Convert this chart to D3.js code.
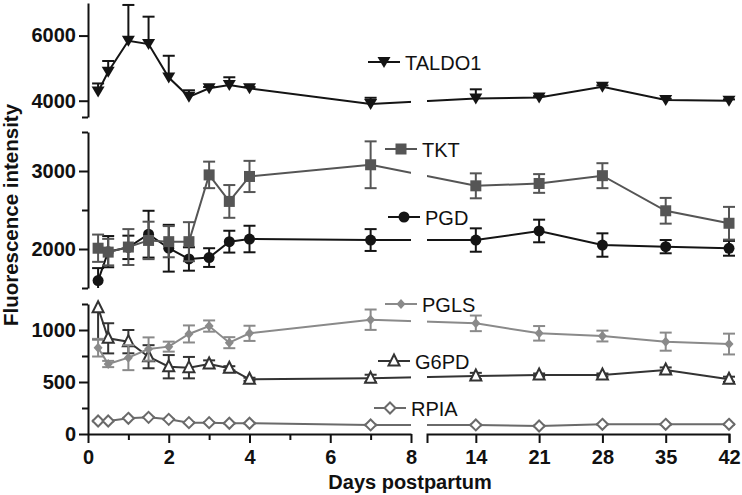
<!DOCTYPE html>
<html>
<head>
<meta charset="utf-8">
<script src="https://cdn.jsdelivr.net/npm/d3@7"></script>
<style>
  html, body { margin: 0; padding: 0; background: #fff; }
  svg { display: block; }
  .tick text { font-family: "Liberation Sans", Arial, sans-serif; font-weight: bold; font-size: 20px; fill: #111; }
</style>
</head>
<body>
<svg id="chart" width="742" height="495"></svg>
<script>
// ---------------- data ----------------
const days = [0.25, 0.5, 1, 1.5, 2, 2.5, 3, 3.5, 4, 7, 14, 21, 28, 35, 42];

const taldo1    = [4280, 4890, 5840, 5740, 4710, 4120, 4380, 4480, 4380, 3900, 4070, 4100, 4430, 4020, 4000];
const taldo1Err = [250, 330, 1100, 840, 670, 200, 40, 240, 40, 190, 280, 40, 40, 40, 40];

const tkt    = [2010, 1960, 2025, 2110, 2094, 2094, 2950, 2610, 2930, 3080, 2810, 2840, 2940, 2490, 2330];
const tktErr = [175, 170, 230, 240, 200, 250, 170, 210, 200, 300, 160, 120, 160, 165, 210];

const pgd    = [1595, 1966, 2021, 2190, 2010, 1872, 1890, 2094, 2128, 2115, 2115, 2231, 2051, 2030, 2009];
const pgdErr = [160, 200, 150, 300, 300, 150, 120, 140, 170, 140, 150, 145, 150, 85, 95];

const pgls    = [830, 673, 734, 817, 840, 962, 1038, 878, 968, 1099, 1064, 968, 942, 888, 865];
const pglsErr = [85, 30, 120, 112, 48, 82, 54, 53, 73, 98, 75, 70, 52, 87, 100];

const g6pd    = [1214, 920, 888, 743, 647, 638, 673, 632, 526, 535, 558, 567, 567, 615, 526];
const g6pdErr = [305, 145, 112, 111, 112, 103, 35, 20, 15, 35, 30, 15, 15, 25, 25];

const rpia    = [125, 125, 151, 160, 141, 109, 109, 103, 103, 87, 87, 77, 93, 93, 93];
const rpiaErr = [4, 4, 4, 4, 4, 4, 4, 4, 4, 4, 4, 4, 4, 4, 4];

const seriesNames = ["TALDO1", "TKT", "PGD", "PGLS", "G6PD", "RPIA"];

const xLeftTicks  = [0, 2, 4, 6, 8];
const xLeftMinor  = [1, 3, 5, 7];
const xRightTicks = [14, 21, 28, 35, 42];

const yTopTicks = [4000, 6000];
const yTopMinor = [3500];
const yMidTicks = [2000, 3000];
const yMidMinor = [1500, 2500, 3500];
const yBotTicks = [0, 500, 1000];
const yBotMinor = [250, 750, 1250];

// ---------------- scales ----------------
const svg = d3.select("#chart");
const FONT = '"Liberation Sans", Arial, sans-serif';

const xLeft  = d3.scaleLinear().domain([0, 8]).range([88, 411]);
const xRight = d3.scaleLinear().domain([8.6, 42]).range([427, 729]);
const x = d => (d <= 8 ? xLeft(d) : xRight(d));

const yTop = d3.scaleLinear().domain([3500, 7000]).range([117, 3]);
const yMid = d3.scaleLinear().domain([1500, 3500]).range([288, 132]);
const yBot = d3.scaleLinear().domain([0, 1250]).range([434, 304]);

// ---------------- clip (x-axis break gap) ----------------
const defs = svg.append("defs");
const cp = defs.append("clipPath").attr("id", "xgap");
cp.append("rect").attr("x", 0).attr("y", 0).attr("width", 411).attr("height", 495);
cp.append("rect").attr("x", 427).attr("y", 0).attr("width", 315).attr("height", 495);

// ---------------- axes ----------------
function yAxis(scale, major, minor) {
  const g = svg.append("g").attr("transform", "translate(88,0)");
  g.call(d3.axisLeft(scale).tickValues(major).tickSize(9).tickSizeOuter(0).tickPadding(3).tickFormat(d3.format("d")));
  g.append("g").call(d3.axisLeft(scale).tickValues(minor).tickSize(6).tickSizeOuter(0).tickFormat(""))
    .select(".domain").remove();
  g.selectAll("path, line").attr("stroke", "#111").attr("stroke-width", 2);
}
yAxis(yTop, yTopTicks, yTopMinor);
yAxis(yMid, yMidTicks, yMidMinor);
yAxis(yBot, yBotTicks, yBotMinor);

function xAxis(scale, major, minor, outer) {
  const g = svg.append("g").attr("transform", "translate(0,434)");
  g.call(d3.axisBottom(scale).tickValues(major).tickSize(9).tickSizeOuter(outer).tickPadding(7).tickFormat(d3.format("d")));
  if (minor.length) {
    g.append("g").call(d3.axisBottom(scale).tickValues(minor).tickSize(6).tickSizeOuter(0).tickFormat(""))
      .select(".domain").remove();
  }
  g.selectAll("path, line").attr("stroke", "#111").attr("stroke-width", 2);
}
xAxis(xLeft, xLeftTicks, xLeftMinor, 0);
xAxis(xRight, xRightTicks, [], 9);

// axis titles
svg.append("text")
  .attr("transform", "translate(18,215) rotate(-90)")
  .attr("text-anchor", "middle")
  .attr("font-family", FONT).attr("font-weight", "bold").attr("font-size", 20.5)
  .attr("fill", "#111")
  .text("Fluorescence intensity");

svg.append("text")
  .attr("x", 410).attr("y", 489)
  .attr("text-anchor", "middle")
  .attr("font-family", FONT).attr("font-weight", "bold").attr("font-size", 20)
  .attr("fill", "#111")
  .text("Days postpartum");

// ---------------- markers ----------------
function marker(g, type, color, cx, cy) {
  if (type === "tridown") {
    g.append("path").attr("d", `M${cx-6.5},${cy-5} L${cx+6.5},${cy-5} L${cx},${cy+6} Z`).attr("fill", color);
  } else if (type === "square") {
    g.append("rect").attr("x", cx - 5.5).attr("y", cy - 5.5).attr("width", 11).attr("height", 11).attr("fill", color);
  } else if (type === "circle") {
    g.append("circle").attr("cx", cx).attr("cy", cy).attr("r", 5.5).attr("fill", color);
  } else if (type === "diamondfill") {
    g.append("path").attr("d", `M${cx},${cy-5} L${cx+4.5},${cy} L${cx},${cy+5} L${cx-4.5},${cy} Z`).attr("fill", color);
  } else if (type === "triup") {
    g.append("path").attr("d", `M${cx},${cy-6.5} L${cx+5.5},${cy+4.5} L${cx-5.5},${cy+4.5} Z`)
      .attr("fill", "#fff").attr("stroke", color).attr("stroke-width", 2);
  } else if (type === "diamondopen") {
    g.append("path").attr("d", `M${cx},${cy-5.5} L${cx+5.5},${cy} L${cx},${cy+5.5} L${cx-5.5},${cy} Z`)
      .attr("fill", "#fff").attr("stroke", color).attr("stroke-width", 2);
  }
}

// ---------------- series ----------------
const series = [
  { name: seriesNames[0], values: taldo1, err: taldo1Err, y: yTop, color: "#141414", marker: "tridown", lx: 368, ly: 62, upOnly: true },
  { name: seriesNames[1], values: tkt,    err: tktErr,    y: yMid, color: "#555555", marker: "square",  lx: 385, ly: 149 },
  { name: seriesNames[2], values: pgd,    err: pgdErr,    y: yMid, color: "#141414", marker: "circle",  lx: 388, ly: 217 },
  { name: seriesNames[3], values: pgls,   err: pglsErr,   y: yBot, color: "#8a8a8a", marker: "diamondfill", lx: 385, ly: 304 },
  { name: seriesNames[4], values: g6pd,   err: g6pdErr,   y: yBot, color: "#333333", marker: "triup",   lx: 378, ly: 361 },
  { name: seriesNames[5], values: rpia,   err: rpiaErr,   y: yBot, color: "#6a6a6a", marker: "diamondopen", lx: 374, ly: 408 }
];

const plot = svg.append("g");
series.slice().reverse().forEach(s => {
  const g = plot.append("g");
  const pts = days.map((d, i) => ({ d, v: s.values[i], e: s.err[i] }));
  const [dmin, dmax] = s.y.domain();

  // error bars
  const eg = g.append("g").attr("stroke", s.color).attr("stroke-width", 2);
  pts.forEach(p => {
    const cx = x(p.d);
    let hi = p.v + p.e, lo = s.upOnly ? p.v : p.v - p.e;
    const hiClamp = Math.min(hi, dmax), loClamp = Math.max(lo, dmin);
    eg.append("line").attr("x1", cx).attr("x2", cx).attr("y1", s.y(hiClamp)).attr("y2", s.y(loClamp));
    if (hi <= dmax) eg.append("line").attr("x1", cx - 6).attr("x2", cx + 6).attr("y1", s.y(hi)).attr("y2", s.y(hi));
    if (!s.upOnly && lo >= dmin) eg.append("line").attr("x1", cx - 6).attr("x2", cx + 6).attr("y1", s.y(lo)).attr("y2", s.y(lo));
  });

  // line
  const line = d3.line().x(p => x(p.d)).y(p => s.y(p.v));
  g.append("path").datum(pts).attr("d", line)
    .attr("fill", "none").attr("stroke", s.color).attr("stroke-width", 2)
    .attr("clip-path", "url(#xgap)");

  // markers
  pts.forEach(p => marker(g, s.marker, s.color, x(p.d), s.y(p.v)));

  // legend
  const lg = svg.append("g");
  lg.append("line").attr("x1", s.lx).attr("x2", s.lx + 32).attr("y1", s.ly).attr("y2", s.ly)
    .attr("stroke", s.color).attr("stroke-width", 2);
  marker(lg, s.marker, s.color, s.lx + 16, s.ly);
  lg.append("text").attr("x", s.lx + 37).attr("y", s.ly + 7.5)
    .attr("font-family", FONT).attr("font-size", 20).attr("fill", "#111")
    .text(s.name);
});
</script>
</body>
</html>
